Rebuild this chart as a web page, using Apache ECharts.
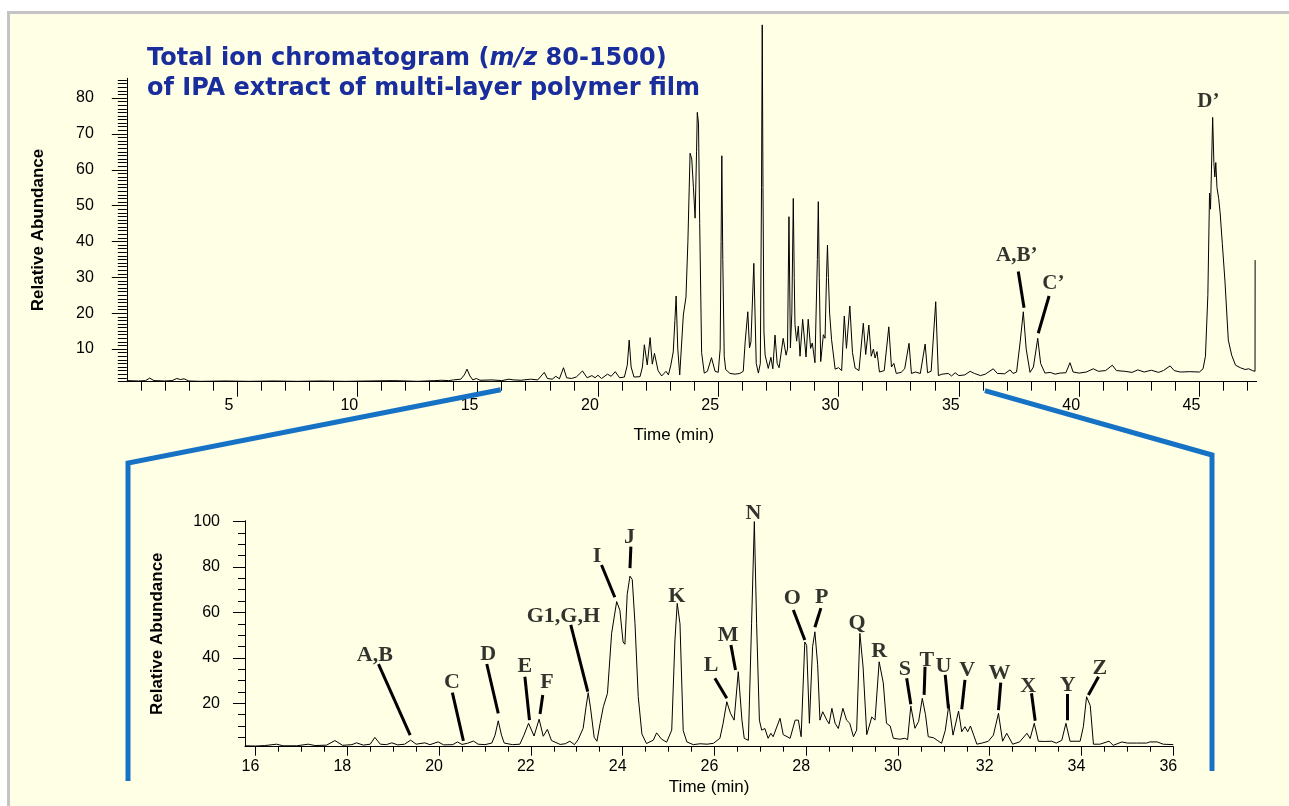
<!DOCTYPE html>
<html><head><meta charset="utf-8">
<script src="https://cdn.jsdelivr.net/npm/echarts@6/dist/echarts.min.js"></script>
<style>
html,body{margin:0;padding:0;background:#fff;}
#panel{position:absolute;left:7px;top:11px;right:0;bottom:0;background:#FFFFE6;border-left:3px solid #C4C4C4;border-top:3px solid #C4C4C4;}
#chart{position:absolute;left:0;top:0;width:1289px;height:806px;}
</style>
</head><body><div id="panel"></div><div id="chart"></div>
<script>
// ---------- Full run (top) ----------
const topTime = [0.42,0.9,1.2,1.37,1.55,2.0,2.3,2.5,2.65,2.8,3.0,3.5,4.5,5.5,6.5,7.5,8.5,9.5,10.5,11.5,12.5,13.2,13.5,13.8,14.0,14.3,14.45,14.56,14.68,14.8,14.95,15.1,15.6,16.0,16.3,16.5,16.8,17.2,17.5,17.77,17.9,18.1,18.25,18.4,18.57,18.7,18.9,19.1,19.36,19.55,19.75,19.88,20.0,20.15,20.4,20.55,20.72,20.9,21.1,21.22,21.3,21.38,21.5,21.75,21.85,21.93,22.05,22.17,22.26,22.35,22.5,22.65,22.83,22.93,23.03,23.13,23.2,23.25,23.32,23.4,23.55,23.66,23.74,23.83,23.9,23.97,24.04,24.07,24.1,24.13,24.18,24.23,24.31,24.42,24.55,24.72,24.87,25.0,25.08,25.12,25.15,25.19,25.25,25.31,25.49,25.7,25.9,26.04,26.12,26.23,26.3,26.36,26.48,26.58,26.67,26.75,26.8,26.83,26.86,26.9,26.95,27.08,27.19,27.27,27.36,27.45,27.53,27.7,27.82,27.88,27.94,28.0,28.06,28.12,28.16,28.19,28.26,28.33,28.4,28.51,28.65,28.74,28.84,28.91,29.02,29.12,29.16,29.2,29.26,29.37,29.44,29.5,29.54,29.58,29.63,29.71,29.86,30.0,30.13,30.24,30.33,30.47,30.58,30.69,30.85,31.03,31.13,31.26,31.36,31.45,31.52,31.6,31.7,31.9,32.09,32.2,32.3,32.4,32.6,32.75,32.93,33.03,33.2,33.4,33.6,33.7,33.85,34.04,34.15,34.3,34.56,34.7,34.85,35.0,35.25,35.47,35.65,35.9,36.1,36.43,36.6,36.9,37.13,37.25,37.4,37.55,37.68,37.8,37.96,38.1,38.28,38.4,38.58,38.8,39.0,39.2,39.45,39.62,39.75,40.0,40.3,40.59,40.8,41.1,41.38,41.55,41.9,42.2,42.44,42.7,43.0,43.3,43.5,43.78,43.95,44.2,44.6,45.0,45.15,45.25,45.35,45.42,45.46,45.5,45.55,45.6,45.64,45.68,45.73,45.8,45.86,45.95,46.06,46.2,46.34,46.5,46.7,46.9,47.05,47.2,47.31,47.315];
const topAbund = [1.2,1.1,1.2,1.9,1.2,1.1,1.2,1.8,1.5,1.7,1.1,1.0,1.1,1.0,1.1,1.0,1.1,1.0,1.1,1.2,1.0,1.2,1.3,1.2,1.4,1.6,2.8,4.4,2.5,1.4,1.8,1.3,1.4,1.2,1.6,1.4,1.3,1.6,1.4,3.5,1.8,1.6,2.4,1.7,4.8,2.0,1.8,2.2,3.9,2.0,2.6,2.0,2.7,1.8,3.0,2.4,3.7,2.0,2.2,5.5,12.5,5.0,2.2,2.3,5.0,11.2,5.6,13.2,5.8,8.8,4.0,2.5,3.8,2.8,5.5,9.2,18,24.8,10,2.8,19.5,24.5,40,64.6,63,55,46.5,46,65,76,73,45,9,3.3,3.8,7.6,3.8,3.5,10,40,63.9,35,8,4.3,3.2,3.0,3.2,3.8,12,20.4,10.3,12,33.9,6,3.3,6,55,100.4,55,15,8.3,4.6,7.7,4.5,13.9,6,4.8,13,8.3,10,46.9,10.3,20,52,30,16.8,12.2,16.4,8,18.3,7.8,18.3,10.2,11.7,6.2,35,51.1,30,6.5,14,13,30,39,30,20,12.7,4.4,4.8,4.0,19.2,10.2,22,9,4.7,4.0,17.2,8.5,16.7,8,10,7.5,9.3,3.6,4.0,16.2,5,6,3.2,3.5,4.5,11.6,3.2,3.6,3.2,11.4,3.4,3.8,23.2,2.6,3.0,3.2,2.5,3.4,2.6,2.8,3.8,3.2,2.6,3.0,4.5,3.2,3.1,4.2,3.2,3.6,12,20.4,10,3.5,5,13,6,3.3,3.5,3.0,3.3,3.4,6.2,3.6,3.3,3.6,4.5,3.8,4.0,5.5,4.0,3.8,3.5,4.2,3.6,4.1,3.5,4.0,5.3,4.0,3.6,3.7,3.6,4.5,8,25,53.5,49,60,74.6,62,58,62,55,52,48,39.5,29,12.5,8.3,5.5,4.8,4.3,4.5,4.0,3.8,34.8];

// ---------- Expanded region 16-36 min (bottom) ----------
const botTime = [15.77,16.0,16.2,16.46,16.6,16.9,17.15,17.3,17.55,17.73,17.9,18.1,18.2,18.35,18.5,18.6,18.72,18.85,18.97,19.1,19.25,19.38,19.5,19.69,19.8,19.98,20.1,20.3,20.4,20.5,20.62,20.75,20.85,21.0,21.15,21.22,21.29,21.36,21.42,21.6,21.76,21.85,21.95,22.07,22.18,22.27,22.36,22.45,22.64,22.75,22.85,22.95,23.03,23.14,23.2,23.25,23.3,23.38,23.44,23.51,23.58,23.67,23.76,23.87,23.94,24.01,24.05,24.1,24.16,24.21,24.27,24.34,24.42,24.52,24.67,24.74,24.85,24.96,25.07,25.14,25.19,25.25,25.32,25.4,25.54,25.69,25.84,25.98,26.12,26.19,26.27,26.35,26.43,26.52,26.6,26.65,26.74,26.81,26.87,26.92,26.98,27.03,27.1,27.17,27.23,27.28,27.43,27.5,27.65,27.76,27.83,27.89,27.97,28.01,28.07,28.14,28.19,28.25,28.3,28.36,28.45,28.5,28.56,28.63,28.7,28.8,28.88,28.95,29.03,29.1,29.17,29.24,29.32,29.43,29.5,29.59,29.68,29.75,29.83,29.9,30.04,30.15,30.21,30.28,30.37,30.45,30.53,30.6,30.66,30.78,30.87,30.95,31.03,31.11,31.2,31.32,31.39,31.46,31.52,31.58,31.65,31.72,31.85,31.97,32.08,32.19,32.28,32.37,32.5,32.65,32.81,32.88,32.97,33.06,33.2,33.35,33.45,33.57,33.66,33.75,33.97,34.04,34.11,34.19,34.26,34.4,34.6,34.69,34.88,35.0,35.2,35.42,35.49,35.65,35.78,36.0];
const botAbund = [1.3,1.2,1.4,2.0,1.3,1.3,2.0,1.4,1.6,3.6,1.5,1.8,2.6,1.6,2.0,5.0,2.0,1.8,2.6,1.7,2.0,3.8,2.0,2.6,1.8,3.0,1.7,1.8,3.0,1.9,2.4,3.4,2.0,1.8,2.5,6,12.3,6,2.5,1.8,2.0,6,11.2,5.6,13.0,5.5,8.5,3.6,1.9,2.2,3.3,1.8,4.0,9.0,18,24.7,18,5,3.3,11.2,18.5,24.4,50.8,64.8,61,47,46,68,76,74.5,55,23,6.5,2.3,3.8,7.0,4.2,2.9,8.2,47.9,64.0,55,8,3.0,1.8,2.2,2.0,2.4,4.6,11.2,20.7,15.6,12.6,33.9,12.6,4.6,3.7,55,100,55,12.6,8.2,8.9,4.6,6.8,5.3,13.4,6.2,4.6,12.6,12.6,5.3,47,45.5,11.2,45,51.5,37,12.6,16.3,12.6,11.0,17.8,11.2,8.9,17.8,12.6,11.2,5.3,8.2,50.8,36,6.2,14,12.6,38.3,29,11.2,10,4.6,4.2,4.6,4.0,18.8,9,12,22.2,15,5.3,4.8,3.5,2.4,8,19.5,6,16.6,7.5,9.7,7.5,10,6,2.0,2.6,3.3,6,15.6,3.3,6.8,2.0,3.0,6.8,4.5,11.2,3.3,3.2,3.3,2.5,3.7,11.2,3.3,3.3,9.7,22.9,19,2.0,2.0,3.3,1.5,3.0,2.5,2.5,2.5,3.0,3.0,2.0,1.8];

// ---------- Ticks ----------
const topXTicks = [5,10,15,20,25,30,35,40,45];
const topYTicks = [10,20,30,40,50,60,70,80];
const botXTicks = [16,18,20,22,24,26,28,30,32,34,36];
const botYTicks = [20,40,60,80,100];
const topXMinor = []; for (let i = 1; i <= 47; i++) if (i % 5) topXMinor.push(i);
const topYMinor = []; for (let i = 1; i <= 85; i++) if (i % 10) topYMinor.push(i);
const botXMinor = []; for (let v = 16.5; v < 36; v += 0.5) if (v % 2) botXMinor.push(v);
const botYMinor = []; for (let v = 5; v < 100; v += 5) if (v % 20) botYMinor.push(v);

// ---------- Peak annotations ----------
const topPeakNames = ['A,B\u2019','C\u2019','D\u2019'];
const topPeakLabelT = [37.41, 38.93, 45.37];
const topPeakLabelV = [36.0, 28.3, 79.0];
const topLeaderFrom = [[37.47,31.6],[38.75,24.8]];
const topLeaderTo = [[37.71,21.5],[38.3,14.4]];

const botPeakNames = ['A,B','C','D','E','F','G1,G,H','I','J','K','L','M','N','O','P','Q','R','S','T','U','V','W','X','Y','Z'];
const botPeakLabelT = [18.60,20.28,21.07,21.87,22.35,22.71,23.44,24.15,25.18,25.93,26.30,26.85,27.70,28.34,29.11,29.59,30.15,30.63,30.99,31.51,32.21,32.84,33.70,34.40];
const botPeakLabelV = [41.3,29.1,41.7,36.1,29.1,58.5,84.6,93.1,67.3,36.9,49.8,103.7,66.3,66.7,55.2,43.0,35.0,39.1,36.1,34.7,33.2,27.6,28.1,35.4];
const botLeaderFrom = [[18.68,37.3],[20.29,24.7],[21.04,37.3],[21.87,31.7],[22.26,23.7],[22.87,54.5],[23.54,80.9],[24.18,89.0],[26.01,31.0],[26.36,45.7],[27.72,61.1],[28.32,61.9],[30.19,31.0],[30.59,36.1],[31.03,32.5],[31.46,30.3],[32.24,29.1],[32.91,24.4],[33.69,24.1],[34.37,31.7]];
const botLeaderTo = [[19.37,6.0],[20.53,3.5],[21.29,15.6],[21.97,12.6],[22.20,15.3],[23.24,25.1],[23.83,66.7],[24.16,79.5],[26.27,22.2],[26.46,34.7],[27.97,47.9],[28.19,53.5],[30.28,19.6],[30.57,23.7],[31.10,17.8],[31.39,17.4],[32.19,17.0],[32.99,12.3],[33.69,12.6],[34.15,23.7]];

const zoomFrom = 16, zoomTo = 36;

// ---------- Chart ----------
const SANS = '"Liberation Sans", Arial, sans-serif';
const SERIF = '"Liberation Serif", "Times New Roman", serif';
const AX = '#000';
const pairs = (a, b) => a.map((t, i) => [t, b[i]]);

function axisBase(gi, min, max, pos) {
  return {gridIndex: gi, type: 'value', min: min, max: max, position: pos,
    splitLine: {show: false}, axisLine: {show: false, onZero: false}};
}
function mainAxis(gi, min, max, pos, ticks, len, margin, pad, fs) {
  const a = axisBase(gi, min, max, pos);
  a.axisLine = {show: true, onZero: false, lineStyle: {color: AX, width: 1}};
  a.axisTick = {show: true, customValues: ticks, length: len, lineStyle: {color: AX, width: 1}};
  a.axisLabel = {show: true, customValues: ticks, margin: margin, padding: pad,
    fontFamily: SANS, fontSize: fs, color: '#000'};
  return a;
}
function minorAxis(gi, min, max, pos, ticks, len) {
  const a = axisBase(gi, min, max, pos);
  a.axisTick = {show: true, customValues: ticks, length: len, lineStyle: {color: AX, width: 1}};
  a.axisLabel = {show: false};
  return a;
}

const tx = mainAxis(0, 0.42, 47.38, 'bottom', topXTicks, 15, 16, [0,16,0,0], 16);
Object.assign(tx, {name: 'Time (min)', nameLocation: 'middle', nameGap: 45,
  nameTextStyle: {fontFamily: SANS, fontSize: 17, color: '#000', padding: [0,36,0,0]}});
const ty = mainAxis(0, 0.9, 85.5, 'left', topYTicks, 15, 33, 0, 16);
Object.assign(ty, {name: 'Relative Abundance', nameLocation: 'middle', nameGap: 80, nameRotate: 90,
  nameTextStyle: {fontFamily: SANS, fontSize: 17, fontWeight: 'bold', color: '#000'}});
const bx = mainAxis(1, 15.771, 36, 'bottom', botXTicks, 9, 12, [0,10,0,0], 16);
Object.assign(bx, {name: 'Time (min)', nameLocation: 'middle', nameGap: 32,
  nameTextStyle: {fontFamily: SANS, fontSize: 17, color: '#000'}});
const by = mainAxis(1, 0.9, 100.4, 'left', botYTicks, 12, 25, [6,0,0,0], 16);
Object.assign(by, {name: 'Relative Abundance', nameLocation: 'middle', nameGap: 79, nameRotate: 90,
  nameTextStyle: {fontFamily: SANS, fontSize: 17, fontWeight: 'bold', color: '#000'}});

function labelSeries(xi, yi, names, ts, vs, fs) {
  return {type: 'scatter', xAxisIndex: xi, yAxisIndex: yi, symbolSize: 1, clip: false, silent: true,
    itemStyle: {color: 'rgba(0,0,0,0)'}, z: 5,
    data: names.map((n, i) => ({name: n, value: [ts[i], vs[i]]})),
    label: {show: true, position: 'inside', formatter: '{b}', fontFamily: SERIF, fontWeight: 'bold',
      fontSize: fs, color: '#000'}};
}
function leaderSeries(xi, yi, from, to) {
  return {type: 'lines', coordinateSystem: 'cartesian2d', xAxisIndex: xi, yAxisIndex: yi, silent: true, z: 4,
    data: from.map((f, i) => ({coords: [f, to[i]]})),
    lineStyle: {color: '#000', width: 3, opacity: 1, curveness: 0}};
}

const chart = echarts.init(document.getElementById('chart'), null, {renderer: 'canvas'});
chart.setOption({
  animation: false,
  backgroundColor: 'transparent',
  grid: [
    {left: 126.8, top: 78.3, width: 1129.9, height: 303.4},
    {left: 245, top: 520.7, width: 928.3, height: 226}
  ],
  xAxis: [tx, minorAxis(0, 0.42, 47.38, 'bottom', topXMinor, 9),
          bx, minorAxis(1, 15.771, 36, 'bottom', botXMinor, 5)],
  yAxis: [ty, minorAxis(0, 0.9, 85.5, 'left', topYMinor, 9),
          by, minorAxis(1, 0.9, 100.4, 'left', botYMinor, 7)],
  series: [
    {type: 'line', xAxisIndex: 0, yAxisIndex: 0, data: pairs(topTime, topAbund), showSymbol: false, symbol: 'none',
     clip: false, silent: true, lineStyle: {color: '#000', width: 1}, z: 3},
    {type: 'line', xAxisIndex: 2, yAxisIndex: 2, data: pairs(botTime, botAbund), showSymbol: false, symbol: 'none',
     clip: false, silent: true, lineStyle: {color: '#000', width: 1}, z: 3},
    leaderSeries(0, 0, topLeaderFrom, topLeaderTo),
    leaderSeries(2, 2, botLeaderFrom, botLeaderTo),
    labelSeries(0, 0, topPeakNames, topPeakLabelT, topPeakLabelV, 21),
    labelSeries(2, 2, botPeakNames, botPeakLabelT, botPeakLabelV, 22)
  ]
});

const pA = chart.convertToPixel({xAxisIndex: 0, yAxisIndex: 0}, [zoomFrom, 0.9]);
const pB = chart.convertToPixel({xAxisIndex: 0, yAxisIndex: 0}, [zoomTo, 0.9]);
const BLUE = '#1672C4';
const TF = '"DejaVu Sans", Verdana, sans-serif';
const titleRich = {
  b: {fontFamily: TF, fontWeight: 'bold', fontSize: 24, fill: '#1A2D9C', color: '#1A2D9C', lineHeight: 30},
  i: {fontFamily: TF, fontWeight: 'bold', fontStyle: 'italic', fontSize: 24, fill: '#1A2D9C', color: '#1A2D9C', lineHeight: 30}
};
chart.setOption({
  graphic: [
    {type: 'text', left: 147, top: 47, z: 10, silent: true,
     style: {text: '{b|Total ion chromatogram (}{i|m/z}{b| 80-1500)}\n{b|of IPA extract of multi-layer polymer film}',
             rich: titleRich}},
    {type: 'polyline', z: 10, silent: true,
     shape: {points: [[pA[0] - 1, pA[1] + 8], [128, 463], [128, 781]]},
     style: {stroke: BLUE, lineWidth: 5, fill: null}},
    {type: 'polyline', z: 10, silent: true,
     shape: {points: [[pB[0] + 2, pB[1] + 9], [1212, 455], [1212, 771]]},
     style: {stroke: BLUE, lineWidth: 5, fill: null}}
  ]
});
</script>
</body></html>
